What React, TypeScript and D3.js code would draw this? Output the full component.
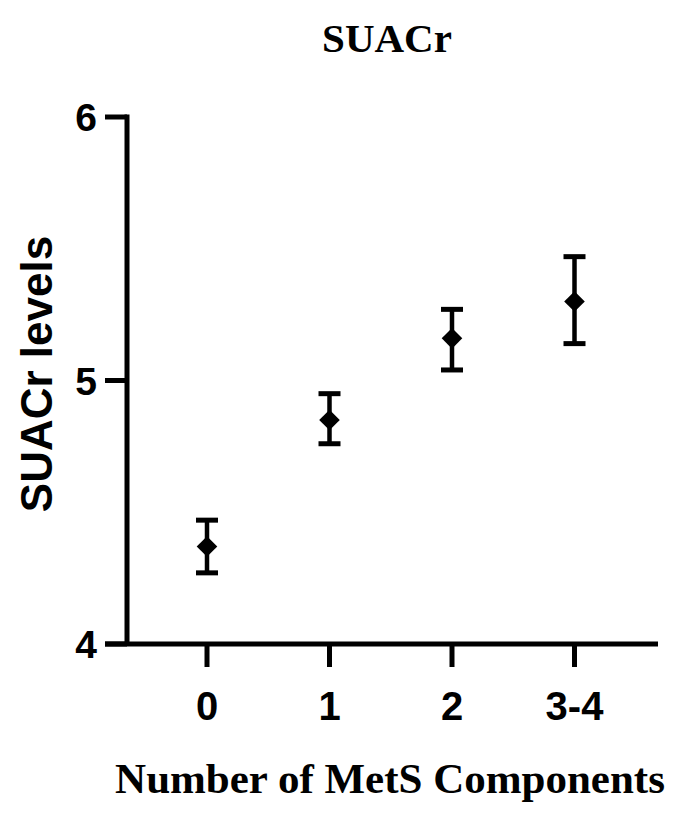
import React from "react";
import * as d3 from "d3";

const categories = ["0", "1", "2", "3-4"];
const means = [4.37, 4.85, 5.16, 5.3];
const upper = [4.47, 4.95, 5.27, 5.47];
const lower = [4.27, 4.76, 5.04, 5.14];
const yTicks = [4, 5, 6];

const W = 698;
const H = 820;

export default function App() {
  const y = d3.scaleLinear().domain([4, 6]).range([644, 117]);
  const x = d3.scalePoint<string>().domain(categories).range([207, 574.5]);
  const axisX = 127;
  const axisY = y(4);
  const sw = 5;
  const diamond = d3.symbol().type(d3.symbolDiamond2).size(270)();

  return (
    <svg width={W} height={H} style={{ position: "absolute", left: 0, top: 0, background: "#fff" }}>
      <rect width={W} height={H} fill="#fff" />
      <text x={387} y={52} textAnchor="middle" fontFamily="Liberation Serif" fontWeight="bold" fontSize={41}>
        SUACr
      </text>
      {/* y axis */}
      <line x1={axisX} x2={axisX} y1={y(6) - sw / 2} y2={axisY} stroke="#000" strokeWidth={sw} />
      {yTicks.map((t) => (
        <g key={t}>
          <line x1={105} x2={axisX} y1={y(t)} y2={y(t)} stroke="#000" strokeWidth={sw} />
          <text x={97} y={y(t)} dy="0.36em" textAnchor="end" fontFamily="Liberation Sans" fontWeight="bold" fontSize={39}>
            {t}
          </text>
        </g>
      ))}
      {/* x axis */}
      <line x1={105} x2={658} y1={axisY} y2={axisY} stroke="#000" strokeWidth={sw} />
      {categories.map((c) => (
        <g key={c}>
          <line x1={x(c)} x2={x(c)} y1={axisY} y2={axisY + 23} stroke="#000" strokeWidth={sw} />
          <text x={x(c)} y={720} textAnchor="middle" fontFamily="Liberation Sans" fontWeight="bold" fontSize={40}>
            {c}
          </text>
        </g>
      ))}
      <text
        transform={`translate(52,374) rotate(-90)`}
        textAnchor="middle"
        fontFamily="Liberation Sans"
        fontWeight="bold"
        fontSize={44}
      >
        SUACr levels
      </text>
      <text x={390} y={793} textAnchor="middle" fontFamily="Liberation Serif" fontWeight="bold" fontSize={43}>
        Number of MetS Components
      </text>
      {/* error bars and points */}
      {categories.map((c, i) => {
        const cx = x(c) as number;
        return (
          <g key={"p" + c}>
            <line x1={cx} x2={cx} y1={y(upper[i])} y2={y(lower[i])} stroke="#000" strokeWidth={4.5} />
            <line x1={cx - 11} x2={cx + 11} y1={y(upper[i])} y2={y(upper[i])} stroke="#000" strokeWidth={5} />
            <line x1={cx - 11} x2={cx + 11} y1={y(lower[i])} y2={y(lower[i])} stroke="#000" strokeWidth={5} />
            <path d={diamond || ""} transform={`translate(${cx},${y(means[i])})`} fill="#000" />
          </g>
        );
      })}
    </svg>
  );
}
